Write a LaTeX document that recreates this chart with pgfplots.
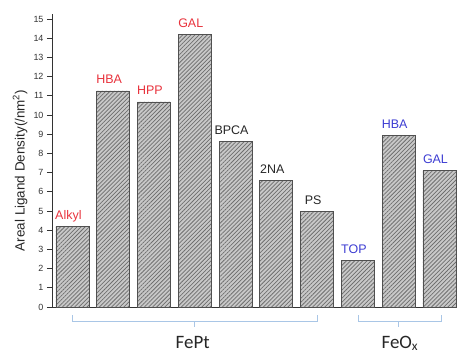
\documentclass[border=0pt]{standalone}
\usepackage{fontspec}
\setmainfont{Liberation Sans}
\newfontfamily\carlito{Carlito}
\usepackage{pgfplots}
\pgfplotsset{compat=1.18}
\usetikzlibrary{patterns.meta}
\definecolor{lblred}{HTML}{E8323C}
\definecolor{lblblue}{HTML}{3C3CD2}
\definecolor{brk}{HTML}{A9C6E6}
\definecolor{barfill}{HTML}{C8C8C8}
\definecolor{hatch}{HTML}{6E6E6E}
\definecolor{edge}{HTML}{505050}
\begin{document}
\begin{tikzpicture}
\begin{axis}[
  at={(0,0)}, anchor=south west,
  scale only axis, width=405bp, height=293bp,
  xmin=-0.5, xmax=9.43, ymin=0, ymax=15.26,
  axis x line=bottom, axis y line=left,
  axis line style={-, line width=0.8pt, black!80},
  xtick=\empty, ytick={0,1,...,15},
  tick align=outside, major tick length=5bp,
  tick style={line width=0.7pt, black!80},
  yticklabel style={font=\fontsize{9}{9}\selectfont, text=black!80},
  /pgf/number format/assume math mode=true,
  ylabel={Areal Ligand Density(/nm\textsuperscript{2})},
  ylabel style={at={(axis description cs:-0.079,0.466)}, anchor=center, font=\fontsize{13.5}{14}\selectfont, text=black!85},
  ybar, bar width=33bp,
  clip=false,
  point meta=explicit symbolic,
  nodes near coords,
  every node near coord/.append style={anchor=base, yshift=7bp, xshift=-4bp, inner sep=0pt, font=\fontsize{12.5}{12.5}\selectfont},
]
\addplot[bar shift=0pt, fill=barfill, draw=edge, line width=0.7pt,
  postaction={pattern={Lines[angle=45,distance=2.9bp,line width=0.75pt]}, pattern color=hatch},
  every node near coord/.append style={text=lblred}]
  coordinates {(0,4.2) [Alkyl] (1,11.25) [HBA] (2,10.68) [HPP] (3,14.18) [GAL]};
\addplot[bar shift=0pt, fill=barfill, draw=edge, line width=0.7pt,
  postaction={pattern={Lines[angle=45,distance=2.9bp,line width=0.75pt]}, pattern color=hatch},
  every node near coord/.append style={text=black!85}]
  coordinates {(4,8.63) [BPCA] (5,6.58) [2NA] (6,4.96) [PS]};
\addplot[bar shift=0pt, fill=barfill, draw=edge, line width=0.7pt,
  postaction={pattern={Lines[angle=45,distance=2.9bp,line width=0.75pt]}, pattern color=hatch},
  every node near coord/.append style={text=lblblue}]
  coordinates {(7,2.41) [TOP] (8,8.92) [HBA] (9,7.1) [GAL]};
% brackets
\draw[brk, line width=0.7pt] ([yshift=-8bp]axis cs:0,0) -- ([yshift=-14.7bp]axis cs:0,0) -- ([yshift=-14.7bp]axis cs:6,0) -- ([yshift=-8bp]axis cs:6,0);
\draw[brk, line width=0.7pt] ([yshift=-14.7bp]axis cs:3,0) -- ([yshift=-19.7bp]axis cs:3,0);
\draw[brk, line width=0.7pt] ([yshift=-8bp]axis cs:7,0) -- ([yshift=-14.7bp]axis cs:7,0) -- ([yshift=-14.7bp]axis cs:9.05,0) -- ([yshift=-8bp]axis cs:9.05,0);
\draw[brk, line width=0.7pt] ([yshift=-14.7bp]axis cs:8,0) -- ([yshift=-19.7bp]axis cs:8,0);
\node[anchor=base, inner sep=0pt, text=black!85, font=\carlito\fontsize{19}{19}\selectfont] at ([yshift=-41bp]axis cs:2.95,0) {FePt};
\node[anchor=base, inner sep=0pt, text=black!85, font=\carlito\fontsize{19}{19}\selectfont] at ([yshift=-41bp]axis cs:8.03,0) {FeO\textsubscript{x}};
\end{axis}
\pgfresetboundingbox
\path[use as bounding box] (-52bp,-46bp) rectangle (405bp,307bp);
\end{tikzpicture}
\end{document}
